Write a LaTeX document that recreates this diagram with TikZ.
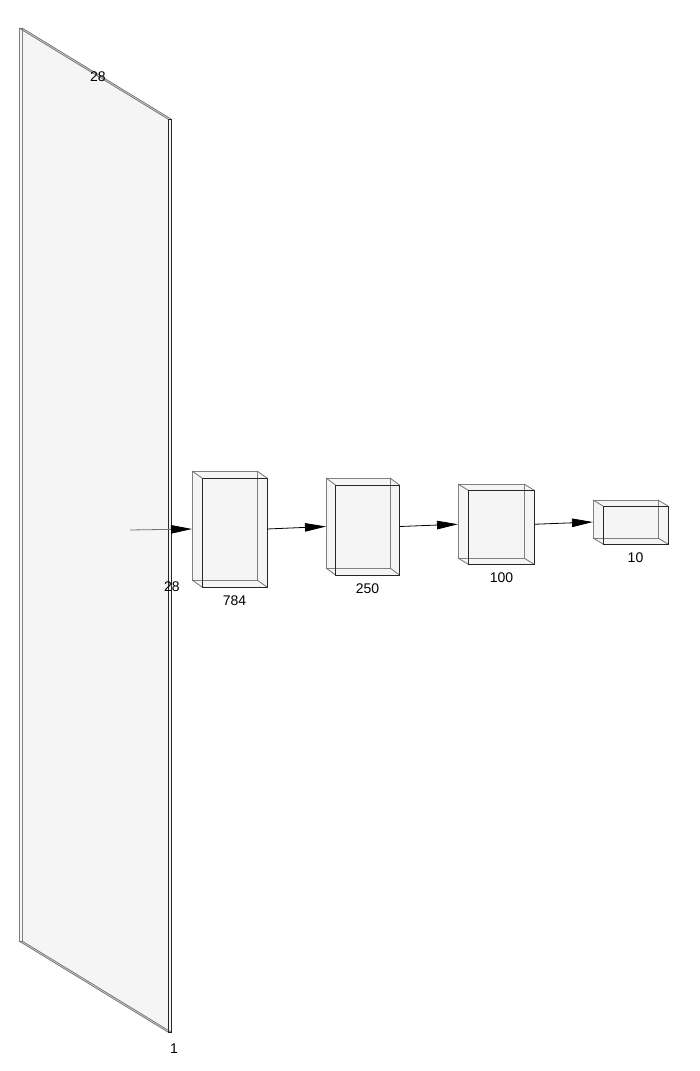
\documentclass[tikz,border=0pt]{standalone}
\usepackage{fontspec}
\setmainfont{Liberation Sans}
\usepackage{tikz}
\usetikzlibrary{arrows.meta,calc}
\usetikzlibrary{positioning}

\tikzstyle{face}=[rectangle,inner sep=0,outer sep=0,anchor=north west]
\tikzstyle{hull}=[fill=black!4]
\tikzstyle{backline}=[draw=black!50]
\tikzstyle{frontline}=[draw=black!85]
\tikzstyle{rib}=[draw=black!55]
\tikzstyle{flow}=[-{Triangle[length=21pt,width=8.5pt,color=black]},black]
\tikzstyle{dimlabel}=[font=\fontsize{14}{16}\selectfont,inner sep=0pt]

% shade and outline a cuboid from its back face #1 and front face #2
\newcommand{\drawcuboid}[2]{%
  \fill[hull] (#1.north west) -- (#1.north east) -- (#2.north east)
    -- (#2.south east) -- (#2.south west) -- (#1.south west) -- cycle;
  \draw[backline] (#1.north west) rectangle (#1.south east);
  \draw[rib] (#1.north west) -- (#2.north west) (#1.north east) -- (#2.north east)
    (#1.south west) -- (#2.south west) (#1.south east) -- (#2.south east);
  \draw[frontline] (#2.north west) rectangle (#2.south east);
}

\begin{document}
\begin{tikzpicture}[x=1pt,y=-1pt,line width=0.8pt]
\useasboundingbox (0,0) rectangle (699,1071);

% input plane
\node[face, minimum width=3pt, minimum height=913pt] (pb) at (19,28) {};
\node[face, minimum width=3pt, minimum height=913pt, below right=91pt and 149pt of pb.north west] (pf) {};

% dense layers
\node[face, minimum width=65pt, minimum height=109pt] (b1) at (192,471) {};
\node[face, minimum width=65pt, minimum height=109pt, below right=7pt and 10pt of b1.north west] (f1) {};
\node[face, minimum width=64pt, minimum height=90pt] (b2) at (326,478) {};
\node[face, minimum width=64pt, minimum height=90pt, below right=7pt and 9.5pt of b2.north west] (f2) {};
\node[face, minimum width=66pt, minimum height=74pt] (b3) at (458,484) {};
\node[face, minimum width=66pt, minimum height=74pt, below right=6.5pt and 10.5pt of b3.north west] (f3) {};
\node[face, minimum width=65pt, minimum height=38pt] (b4) at (593,500) {};
\node[face, minimum width=65pt, minimum height=38pt, below right=6pt and 10pt of b4.north west] (f4) {};

\drawcuboid{pb}{pf}
\drawcuboid{b1}{f1}
\drawcuboid{b2}{f2}
\drawcuboid{b3}{f3}
\drawcuboid{b4}{f4}

\coordinate (src) at (130,530);
\coordinate (m1) at ($(b1.center)!0.5!(f1.center)$);
\coordinate (m2) at ($(b2.center)!0.5!(f2.center)$);
\coordinate (m3) at ($(b3.center)!0.5!(f3.center)$);
\coordinate (m4) at ($(b4.center)!0.5!(f4.center)$);

\draw[flow,draw=black!55] (src) -- (m1 -| b1.west);
\draw[flow] (m1 -| f1.east) -- (m2 -| b2.west);
\draw[flow] (m2 -| f2.east) -- (m3 -| b3.west);
\draw[flow] (m3 -| f3.east) -- (m4 -| b4.west);

% sizes
\node[dimlabel] (pw) at (98,77) {28};
\node[dimlabel] (ph) at (172,587) {28};
\node[dimlabel, below=11pt of pf.south, xshift=4.5pt] (pd) {1};
\node[dimlabel, below=8pt of f1.south] (l1) {784};
\node[dimlabel, below=8pt of f2.south] (l2) {250};
\node[dimlabel, below=8pt of f3.south] (l3) {100};
\node[dimlabel, below=8pt of f4.south] (l4) {10};
\end{tikzpicture}
\end{document}
